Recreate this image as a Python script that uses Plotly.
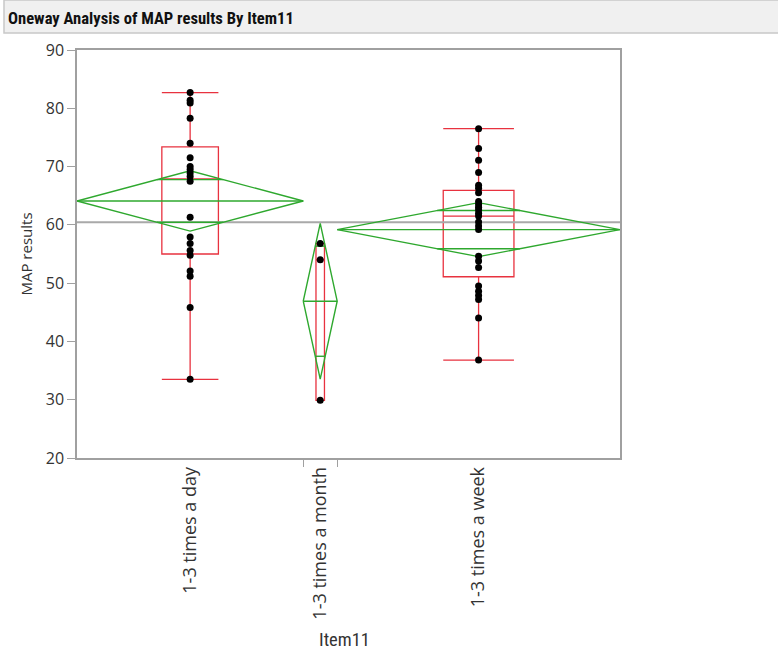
import numpy as np
import plotly.graph_objects as go

# ---------------- data ----------------
categories = ["1-3 times a day", "1-3 times a month", "1-3 times a week"]
day_values = [33.5, 45.8, 51.2, 52.1, 54.8, 55.6, 56.8, 57.9, 61.3, 67.5,
              68.3, 68.9, 69.5, 70.0, 71.5, 74.0, 78.3, 80.9, 81.4, 82.7]
month_values = [56.8, 54.0, 29.9]
week_values = [36.8, 44.0, 47.2, 47.9, 48.6, 49.5, 52.7, 53.8, 54.6, 59.2,
               59.8, 60.5, 61.5, 62.0, 62.6, 63.0, 63.5, 64.0, 65.5, 66.3,
               66.8, 69.0, 71.1, 73.1, 76.5]
y_ticks = [20, 30, 40, 50, 60, 70, 80, 90]
title_text = "Oneway Analysis of MAP results By Item11"
x_title = "Item11"
y_title = "MAP results"

# ---------------- styles ----------------
RED = "#E8323F"
GREEN = "#2EA82E"
GRAY = "#A9A9A9"
AXIS = "#A0A0A0"
TXT = "#333333"
NARROW = "Roboto Condensed, Liberation Sans Narrow, Liberation Sans, Arial, sans-serif"
SANS = "Open Sans, Noto Sans, sans-serif"

groups = [day_values, month_values, week_values]
ns = np.array([len(g) for g in groups])
N = int(ns.sum())
starts = np.concatenate([[0], np.cumsum(ns)[:-1]])
ends = starts + ns
centers = (starts + ends) / 2.0
means = np.array([np.mean(g) for g in groups])
all_vals = np.concatenate([np.asarray(g, float) for g in groups])
grand_mean = all_vals.mean()
sse = sum(((np.asarray(g) - m) ** 2).sum() for g, m in zip(groups, means))
dfree = N - len(groups)
s_pooled = np.sqrt(sse / dfree)
z = 1.959964
tq = z + (z**3 + z) / (4 * dfree) + (5 * z**5 + 16 * z**3 + 3 * z) / (96 * dfree**2)
ci = tq * s_pooled / np.sqrt(ns)

fig = go.Figure()

# grand mean line
fig.add_trace(go.Scatter(x=[0, N], y=[grand_mean, grand_mean], mode="lines",
                         line=dict(color=GRAY, width=2), hoverinfo="skip", showlegend=False))

# means diamonds
dx, dy = [], []
for st, en, c, m, h in zip(starts, ends, centers, means, ci):
    dx += [st, c, en, c, st, None, st, en, None]
    dy += [m, m + h, m, m - h, m, None, m, m, None]
    ov = h / np.sqrt(2)
    half = (en - st) / 2.0 * (1 - 1 / np.sqrt(2))
    dx += [c - half, c + half, None, c - half, c + half, None]
    dy += [m + ov, m + ov, None, m - ov, m - ov, None]
fig.add_trace(go.Scatter(x=dx, y=dy, mode="lines", line=dict(color=GREEN, width=1.4),
                         hoverinfo="skip", showlegend=False))

# box plots (JMP quantiles, outlier box whiskers)
for g, c, n in zip(groups, centers, ns):
    arr = np.asarray(g, float)
    q1, med, q3 = np.quantile(arr, [0.25, 0.5, 0.75], method="weibull")
    iqr = q3 - q1
    lo = arr[arr >= q1 - 1.5 * iqr].min()
    hi = arr[arr <= q3 + 1.5 * iqr].max()
    fig.add_trace(go.Box(x=[c], q1=[q1], median=[med], q3=[q3], lowerfence=[lo], upperfence=[hi],
                         width=0.25 * n, whiskerwidth=1, boxpoints=False,
                         line=dict(color=RED, width=1.3), fillcolor="rgba(0,0,0,0)",
                         hoverinfo="skip", showlegend=False))

# points
for g, c in zip(groups, centers):
    fig.add_trace(go.Scatter(x=[c] * len(g), y=g, mode="markers",
                             marker=dict(color="black", size=7), showlegend=False))

# invisible trace for boundary tick axis
fig.add_trace(go.Scatter(x=[None], y=[None], xaxis="x2", showlegend=False))

# frame positions (pixels) for title bar
W, H = 778, 652
ml, mr, mt, mb = 77, W - 620, 50, H - 458
pw, ph = W - ml - mr, H - mt - mb

def px_x(p):
    return (p - ml) / pw

def px_y(p):
    return (H - mb - p) / ph

fig.update_layout(
    width=W, height=H,
    margin=dict(l=ml, r=mr, t=mt, b=mb),
    paper_bgcolor="white", plot_bgcolor="white",
    boxmode="overlay",
    title=dict(text="<b>" + title_text + "</b>", xref="container", yref="container",
               x=8 / W, xanchor="left", y=1 - 18 / H, yanchor="middle",
               font=dict(family=NARROW, size=16.6, color="#111111")),
    xaxis=dict(range=[0, N], tickmode="array", tickvals=list(centers), ticktext=categories,
               tickangle=-90, ticks="", showline=True, linecolor=AXIS, linewidth=1.5, mirror=True,
               showgrid=False, zeroline=False, tickfont=dict(family=SANS, size=18, color=TXT)),
    xaxis2=dict(range=[0, N], overlaying="x", side="bottom", tickmode="array",
                tickvals=list(ends[:-1]), ticks="outside", ticklen=8, tickcolor=AXIS,
                showticklabels=False, showline=False, showgrid=False, zeroline=False),
    yaxis=dict(range=[20, 90], tickmode="array", tickvals=y_ticks, ticks="outside", ticklen=8,
               tickcolor=AXIS, showline=True, linecolor=AXIS, linewidth=1.5, mirror=True,
               showgrid=False, zeroline=False, tickfont=dict(family=SANS, size=16, color=TXT),
               title=dict(text=y_title, font=dict(family=SANS, size=15, color=TXT), standoff=10)),
    shapes=[dict(type="rect", xref="paper", yref="paper",
                 x0=px_x(4), x1=px_x(W + 2), y0=px_y(33), y1=px_y(0),
                 fillcolor="#F0F0F0", line=dict(color="#C8C8C8", width=1.5), layer="below")],
    annotations=[dict(text=x_title, xref="paper", yref="paper", x=px_x(344), y=px_y(640),
                      xanchor="center", yanchor="middle", showarrow=False,
                      font=dict(family=NARROW, size=18.5, color=TXT))],
)

fig.write_html("out.html")
